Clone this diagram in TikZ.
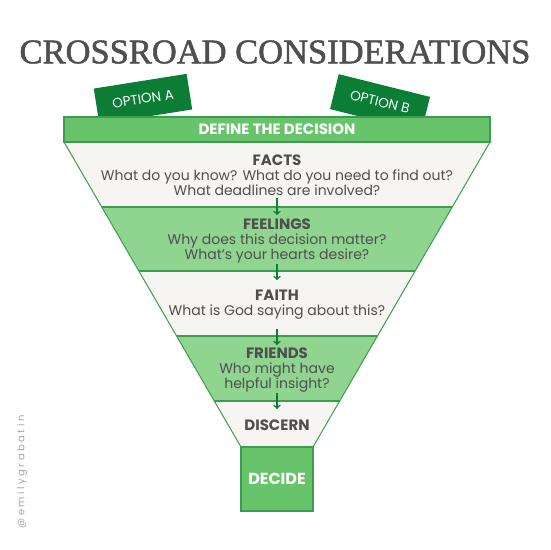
\documentclass[tikz,border=0pt]{standalone}
\usepackage{fontspec}
\setmainfont{Poppins}
\newfontfamily\titlefont[FakeBold=1.4]{Liberation Serif}
\usetikzlibrary{arrows,positioning}
\definecolor{leaf}{HTML}{67C46B}
\definecolor{paleleaf}{HTML}{8FD48F}
\definecolor{darkleaf}{HTML}{0B7D35}
\definecolor{rim}{HTML}{3E9C50}
\definecolor{cream}{HTML}{F7F5F2}
\definecolor{ink}{HTML}{4F4F4F}
\newcommand{\head}[1]{{\bfseries\fontsize{15}{15}\selectfont #1}}

\begin{document}
\begin{tikzpicture}[x=1pt,y=-1pt,
    band/.style={align=center,text=ink,font=\fontsize{14}{15}\selectfont},
    flow/.style={->,draw=darkleaf,line width=1.6pt},
    tab/.style={fill=darkleaf,minimum width=94pt,minimum height=36pt},
    tablabel/.style={text=white,inner sep=1pt,font=\fontsize{13.5}{14}\selectfont}]
  \useasboundingbox (0,0) rectangle (550,550);

  % title
  \node[text=ink,font=\titlefont\fontsize{34.5}{36}\selectfont] (title) at (275,52) {CROSSROAD CONSIDERATIONS};

  % the two options, tucked behind the bar
  \node[tab,rotate=9] (optA) at (143,99) {};
  \node[tablabel,rotate=9] (optAtext) at (143,99) {OPTION A};
  \node[tab,rotate=-14] (optB) at (380,103) {};
  \node[tablabel,rotate=-14] (optBtext) at (380,102) {OPTION B};

  % funnel bands
  \fill[cream] (64,142) -- (490,142) -- (452.3,207) -- (101.7,207) -- cycle;
  \fill[paleleaf] (101.7,207) -- (452.3,207) -- (415.1,271) -- (138.9,271) -- cycle;
  \fill[cream] (138.9,271) -- (415.1,271) -- (377.4,336) -- (176.6,336) -- cycle;
  \fill[paleleaf] (176.6,336) -- (377.4,336) -- (339.7,401) -- (214.3,401) -- cycle;
  \fill[cream] (214.3,401) -- (339.7,401) -- (313,447) -- (241,447) -- cycle;
  \draw[rim,line width=1.2pt] (101.7,207) -- (452.3,207)
    (138.9,271) -- (415.1,271)
    (176.6,336) -- (377.4,336)
    (214.3,401) -- (339.7,401);
  \draw[rim,line width=1pt] (64,142) -- (241,447) (490,142) -- (313,447);

  % top bar and bottom box
  \node[fill=leaf,draw=rim,line width=1.2pt,minimum width=426pt,minimum height=25pt,text=white,
    font=\bfseries\fontsize{15}{15}\selectfont] (define) at (277,129.5) {DEFINE THE DECISION};
  \node[fill=leaf,draw=rim,line width=1.2pt,minimum width=72pt,minimum height=64pt,text=white,
    font=\bfseries\fontsize{16}{16}\selectfont] (decide) at (277,479) {DECIDE};

  \node[band] (facts) at (277,175) {\head{FACTS}\\What do you know? What do you need to find out?\\What deadlines are involved?};
  \node[band] (feelings) at (277,241) {\head{FEELINGS}\\Why does this decision matter?\\What's your hearts desire?};
  \node[band] (faith) at (277,304.5) {\head{FAITH}\\What is God saying about this?};
  \node[band] (friends) at (277,370) {\head{FRIENDS}\\Who might have\\helpful insight?};
  \node[band] (discern) at (277,425) {\head{DISCERN}};

  % arrows between the bands
  \coordinate (a1) at (277,198); \coordinate (b1) at (277,215);
  \coordinate (a2) at (277,264); \coordinate (b2) at (277,280);
  \coordinate (a3) at (277,329); \coordinate (b3) at (277,345);
  \coordinate (a4) at (277,393); \coordinate (b4) at (277,409);
  \draw[flow] (a1) -- (b1);
  \draw[flow] (a2) -- (b2);
  \draw[flow] (a3) -- (b3);
  \draw[flow] (a4) -- (b4);

  \node[rotate=90,text=black!35,font=\fontsize{10}{10}\selectfont\addfontfeatures{LetterSpace=25}] (handle) at (22,472) {@emilygrabatin};
\end{tikzpicture}
\end{document}
